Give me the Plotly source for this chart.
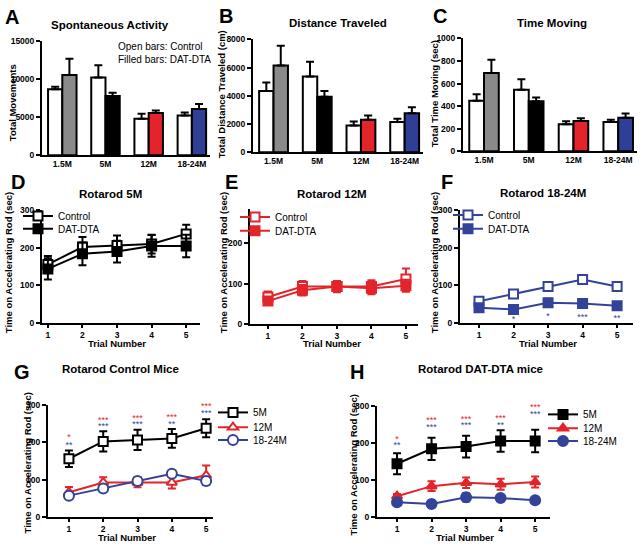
import plotly.graph_objects as go

W, H = 640, 548
def fx(px): return px / W
def fy(py): return 1 - py / H

# ---------------- data ----------------
ages = ["1.5M", "5M", "12M", "18-24M"]
dta_colors = ["#8a8a8a", "#000000", "#e3242b", "#2f3f96"]

spont_ctrl = [8700, 10250, 4800, 5230]
spont_ctrl_err = [300, 1600, 650, 400]
spont_dta = [10580, 7800, 5550, 6070]
spont_dta_err = [2120, 430, 330, 690]

dist_ctrl = [4340, 5360, 1900, 2140]
dist_ctrl_err = [600, 1060, 280, 230]
dist_dta = [6150, 3940, 2310, 2770]
dist_dta_err = [1390, 400, 290, 420]

time_ctrl = [447, 545, 240, 260]
time_ctrl_err = [58, 92, 26, 20]
time_dta = [693, 443, 268, 298]
time_dta_err = [118, 34, 24, 37]

trials = [1, 2, 3, 4, 5]
rr5_ctrl = [156, 202, 206, 210, 237]
rr5_ctrl_err = [22, 27, 27, 25, 24]
rr5_dta = [144, 184, 190, 205, 205]
rr5_dta_err = [28, 30, 29, 29, 30]

rr12_ctrl = [67, 93, 93, 93, 112]
rr12_ctrl_err = [14, 14, 13, 16, 26]
rr12_dta = [57, 84, 93, 89, 95]
rr12_dta_err = [6, 13, 14, 15, 15]

rr18_ctrl = [58, 77, 97, 116, 97]
rr18_ctrl_err = [6, 5, 9, 6, 9]
rr18_dta = [41, 36, 54, 52, 46]
rr18_dta_err = [4, 4, 11, 5, 5]

f_stars = ["", "*", "*", "***", "**"]
f_star_y = [20, 18, 24, 22, 20]

g_red_stars = ["*", "***", "***", "***", "***"]
g_red_y = [226, 271, 276, 278, 309]
g_blue_stars = ["**", "***", "***", "**", "***"]
g_blue_y = [204, 255, 261, 261, 289]

h_red_stars = ["*", "***", "***", "***", "***"]
h_red_y = [223, 272, 276, 278, 309]
h_blue_stars = ["**", "***", "***", "**", "***"]
h_blue_y = [205, 255, 259, 260, 289]

RED = "#e3242b"
BLUE = "#33439a"
FONT = "Liberation Sans"

fig = go.Figure()

# ---------------- bar panels ----------------
bar_panels = [
    (1, spont_ctrl, spont_ctrl_err, spont_dta, spont_dta_err),
    (2, dist_ctrl, dist_ctrl_err, dist_dta, dist_dta_err),
    (3, time_ctrl, time_ctrl_err, time_dta, time_dta_err),
]
for k, c, ce, d, de in bar_panels:
    xa = "x" if k == 1 else f"x{k}"
    ya = "y" if k == 1 else f"y{k}"
    fig.add_trace(go.Bar(
        x=ages, y=c, xaxis=xa, yaxis=ya, showlegend=False, offsetgroup="c",
        marker=dict(color="white", line=dict(color="black", width=2)),
        error_y=dict(type="data", symmetric=False, array=ce, arrayminus=[0]*4,
                     color="black", thickness=2, width=4)))
    fig.add_trace(go.Bar(
        x=ages, y=d, xaxis=xa, yaxis=ya, showlegend=False, offsetgroup="d",
        marker=dict(color=dta_colors, line=dict(color="black", width=2)),
        error_y=dict(type="data", symmetric=False, array=de, arrayminus=[0]*4,
                     color="black", thickness=2, width=4)))

# ---------------- line panels ----------------
def line_trace(k, y, err, color, symbol, filled, name, legend):
    return go.Scatter(
        x=trials, y=y, xaxis=f"x{k}", yaxis=f"y{k}", name=name, legend=legend,
        mode="lines+markers",
        line=dict(color=color, width=2),
        marker=dict(symbol=symbol, size=9 if symbol != "circle" else 10,
                    color=color if filled else "white",
                    line=dict(color=color, width=2)),
        error_y=dict(type="data", array=err, color=color, thickness=2, width=4))

fig.add_trace(line_trace(4, rr5_ctrl, rr5_ctrl_err, "black", "square", False, "Control", "legend"))
fig.add_trace(line_trace(4, rr5_dta, rr5_dta_err, "black", "square", True, "DAT-DTA", "legend2"))
fig.add_trace(line_trace(5, rr12_ctrl, rr12_ctrl_err, RED, "square", False, "Control", "legend3"))
fig.add_trace(line_trace(5, rr12_dta, rr12_dta_err, RED, "square", True, "DAT-DTA", "legend4"))
fig.add_trace(line_trace(6, rr18_ctrl, rr18_ctrl_err, BLUE, "square", False, "Control", "legend5"))
fig.add_trace(line_trace(6, rr18_dta, rr18_dta_err, BLUE, "square", True, "DAT-DTA", "legend6"))
fig.add_trace(line_trace(7, rr5_ctrl, rr5_ctrl_err, "black", "square", False, "5M", "legend7"))
fig.add_trace(line_trace(7, rr12_ctrl, rr12_ctrl_err, RED, "triangle-up", False, "12M", "legend8"))
fig.add_trace(line_trace(7, rr18_ctrl, rr18_ctrl_err, BLUE, "circle", False, "18-24M", "legend9"))
fig.add_trace(line_trace(8, rr5_dta, rr5_dta_err, "black", "square", True, "5M", "legend10"))
fig.add_trace(line_trace(8, rr12_dta, rr12_dta_err, RED, "triangle-up", True, "12M", "legend11"))
fig.add_trace(line_trace(8, rr18_dta, rr18_dta_err, BLUE, "circle", True, "18-24M", "legend12"))

# significance stars
def stars(k, labels, ys, color, above):
    # 'above': text drawn above an anchor that stays inside the axis range
    drop, pos = (26, "top center") if above else (8, "middle center")
    fig.add_trace(go.Scatter(
        x=trials, y=[v - drop for v in ys], text=labels, mode="text",
        xaxis=f"x{k}", yaxis=f"y{k}", showlegend=False, cliponaxis=False,
        textposition=pos, hoverinfo="skip",
        textfont=dict(family=FONT, size=9, color=color)))
stars(6, f_stars, f_star_y, BLUE, False)
stars(7, g_red_stars, g_red_y, RED, True)
stars(7, g_blue_stars, g_blue_y, BLUE, True)
stars(8, h_red_stars, h_red_y, RED, True)
stars(8, h_blue_stars, h_blue_y, BLUE, True)

# ---------------- axes ----------------
tickf = dict(family=FONT, size=8.5, color="black", weight="bold")
def xax(dom, rng, anchor, cat=False):
    d = dict(domain=[fx(dom[0]), fx(dom[1])], range=rng, showline=True, linecolor="black",
             linewidth=2, ticks="outside", ticklen=3, tickwidth=2, tickcolor="black",
             showgrid=False, zeroline=False, tickfont=tickf, fixedrange=True, anchor=anchor)
    if not cat:
        d.update(tickvals=trials)
    else:
        d.update(ticks="")
    return d
def yax(dom, rng, tv, anchor):
    return dict(domain=[fy(dom[1]), fy(dom[0])], range=rng, showline=True, linecolor="black",
                linewidth=2, ticks="outside", ticklen=4, tickwidth=2, tickcolor="black",
                showgrid=False, zeroline=False, tickfont=tickf, tickvals=tv, anchor=anchor,
                tickformat="d", fixedrange=True)

layout = dict(
    width=W, height=H, margin=dict(l=0, r=0, t=0, b=0),
    paper_bgcolor="white", plot_bgcolor="white",
    font=dict(family=FONT, color="black"),
    barmode="group", bargap=0.34, bargroupgap=0.0,
)
layout["xaxis"] = xax((42, 210), [-0.47, 3.42], "y", True)
layout["yaxis"] = yax((37, 153), [0, 15000], [0, 5000, 10000, 15000], "x")
layout["xaxis2"] = xax((253, 423), [-0.47, 3.42], "y2", True)
layout["yaxis2"] = yax((35, 150), [0, 8000], [0, 2000, 4000, 6000, 8000], "x2")
layout["xaxis3"] = xax((463, 637), [-0.47, 3.42], "y3", True)
layout["yaxis3"] = yax((34, 149), [0, 1000], [0, 200, 400, 600, 800, 1000], "x3")
layout["xaxis4"] = xax((42, 200), [0.83, 5.4], "y4")
layout["yaxis4"] = yax((209, 324), [0, 300], [0, 100, 200, 300], "x4")
layout["xaxis5"] = xax((250, 418), [0.48, 5.35], "y5")
layout["yaxis5"] = yax((208, 325), [0, 285], [0, 100, 200], "x5")
layout["xaxis6"] = xax((460, 633), [0.45, 5.46], "y6")
layout["yaxis6"] = yax((209, 324), [0, 300], [0, 100, 200, 300], "x6")
layout["xaxis7"] = xax((48, 213), [0.39, 5.2], "y7")
layout["yaxis7"] = yax((407, 522), [0, 300], [0, 100, 200, 300], "x7")
layout["xaxis8"] = xax((377, 550), [0.42, 5.43], "y8")
layout["yaxis8"] = yax((408, 522), [0, 300], [0, 100, 200, 300], "x8")
layout["xaxis7"]["ticklabelstandoff"] = -1
layout["xaxis8"]["ticklabelstandoff"] = -1

def leg(text_x, row_y, size=10):
    return dict(x=fx(text_x - 40), y=fy(row_y), xanchor="left", yanchor="middle",
                bgcolor="rgba(0,0,0,0)", font=dict(family=FONT, size=size, color="black"),
                itemwidth=30, borderwidth=0)
legend_pos = [(58, 215), (58, 228), (275, 216), (275, 230), (488, 214), (488, 228),
              (253, 415), (253, 430), (253, 443), (583, 417), (583, 431), (583, 444)]
for i, (tx, ty) in enumerate(legend_pos):
    layout["legend" if i == 0 else f"legend{i+1}"] = leg(tx, ty)
fig.update_layout(**layout)

# ---------------- text ----------------
ann = []
def T(px, py, text, size, bold=True, angle=0, color="black", xanchor="center"):
    ann.append(dict(x=fx(px), y=fy(py), xref="paper", yref="paper", text=text,
                    showarrow=False, textangle=angle, xanchor=xanchor, yanchor="middle",
                    font=dict(family=FONT, size=size, color=color,
                              weight="bold" if bold else "normal")))

for letter, px, py in [("A", 12, 12), ("B", 226, 11), ("C", 440, 11), ("D", 18, 180),
                       ("E", 231, 180), ("F", 447, 180), ("G", 22, 374), ("H", 357, 374)]:
    T(px, py, letter, 20)

for text, px, py in [("Spontaneous Activity", 110, 20), ("Distance Traveled", 338, 18),
                     ("Time Moving", 552, 18), ("Rotarod 5M", 110, 193),
                     ("Rotarod 12M", 332, 193), ("Rotarod 18-24M", 543, 192),
                     ("Rotarod Control Mice", 120, 371), ("Rotarod DAT-DTA mice", 480, 371)]:
    T(px, py, text, 11.5)

for text, px, py in [("Total Movements", 12, 100), ("Total Distance Traveled (cm)", 221, 91),
                     ("Total Time Moving (sec)", 434, 91),
                     ("Time on Accelerating Rod (sec)", 8, 263),
                     ("Time on Accelerating Rod (sec)", 223, 263),
                     ("Time on Accelerating Rod (sec)", 434, 263),
                     ("Time on Accelerating Rod (sec)", 27, 467),
                     ("Time on Accelerating Rod (sec)", 353, 469)]:
    T(px, py, text, 9.5, angle=-90)

for px, py in [(117, 345), (332, 345), (548, 345), (127, 542), (465, 542)]:
    T(px, py, "Trial Number", 9.5)

T(116, 42, "Open bars: Control", 10, bold=False, xanchor="left")
T(116, 56, "Filled bars: DAT-DTA", 10, bold=False, xanchor="left")

fig.update_layout(annotations=ann)
fig.write_html("out.html", post_script="document.body.style.margin='0';",
               config={"displayModeBar": False})
